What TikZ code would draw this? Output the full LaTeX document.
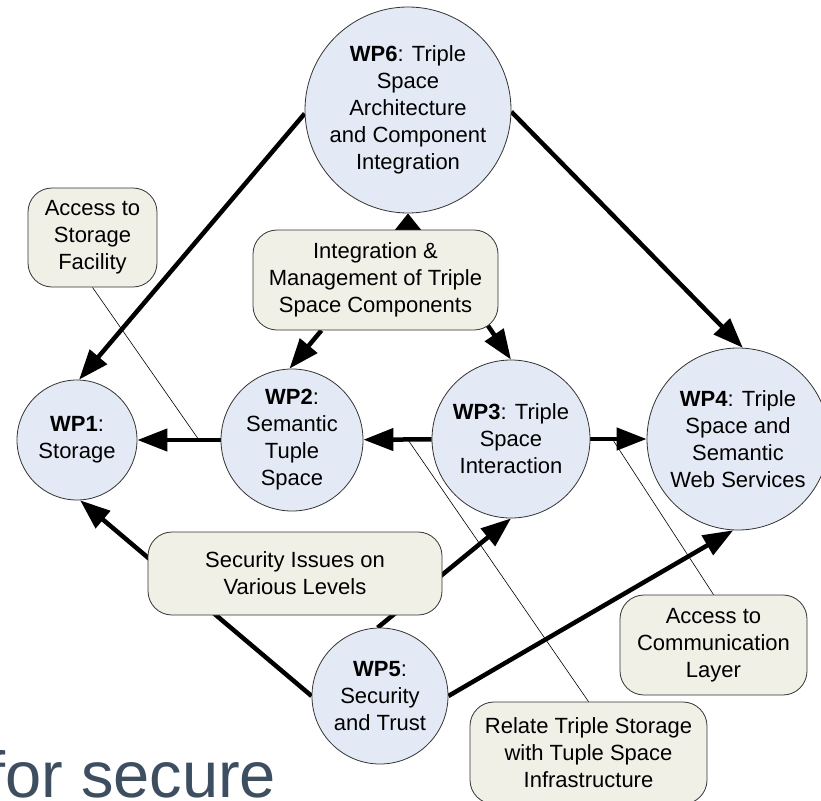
\documentclass[tikz,border=0pt]{standalone}
\usepackage{fontspec}
\setmainfont{Liberation Sans}
\usetikzlibrary{arrows.meta,backgrounds,calc}
\definecolor{wpblue}{RGB}{228,234,245}
\definecolor{taskbeige}{RGB}{240,240,231}
\definecolor{slate}{RGB}{62,78,97}
\newcommand*{\wptextstyle}{\fontsize{22}{27}\selectfont}

\tikzset{
   wp/.style = {
      circle, draw=black!80, fill=wpblue, line width=0.8pt,
      inner sep=0pt, align=center, font=\wptextstyle
   },
   task/.style = {
      rectangle, rounded corners=24pt, draw=black!80, fill=taskbeige,
      line width=0.8pt, inner sep=0pt, align=center, font=\wptextstyle
   },
   flow/.style = {line width=4.5pt, -{Triangle[length=30pt,width=22pt]}},
   shortflow/.style = {line width=4.5pt, -{Triangle[length=17pt,width=26pt]}},
   callout/.style = {line width=0.6pt}
}

\begin{document}
\begin{tikzpicture}[x=1pt, y=-1pt]
   \clip (0,0) rectangle (821,800);

   % work packages
   \node[wp, minimum size=206pt] (wp6) at (408,110)
      {\textbf{WP6}: Triple\\Space\\Architecture\\and Component\\Integration};
   \node[wp, minimum size=120pt] (wp1) at (77,440)
      {\textbf{WP1}:\\Storage};
   \node[wp, minimum size=142pt] (wp2) at (292,440)
      {\textbf{WP2}:\\Semantic\\Tuple\\Space};
   \node[wp, minimum size=158pt] (wp3) at (511,439)
      {\textbf{WP3}: Triple\\Space\\Interaction};
   \node[wp, minimum size=182pt] (wp4) at (738,439)
      {\textbf{WP4}: Triple\\Space and\\Semantic\\Web Services};
   \node[wp, minimum size=136pt] (wp5) at (380,696)
      {\textbf{WP5}:\\Security\\and Trust};

   % shared tasks
   \node[task, minimum width=129pt, minimum height=99pt] (storage) at (92.5,237.5)
      {Access to\\Storage\\Facility};
   \node[task, minimum width=245pt, minimum height=100pt] (integration) at (375.5,280)
      {Integration \&\\Management of Triple\\Space Components};
   \node[task, minimum width=294pt, minimum height=83pt] (security) at (295,573.5)
      {Security Issues on\\Various Levels};
   \node[task, minimum width=187pt, minimum height=100pt] (communication) at (713.5,645)
      {Access to\\Communication\\Layer};
   \node[task, minimum width=237pt, minimum height=102pt] (relate) at (588.5,753)
      {Relate Triple Storage\\with Tuple Space\\Infrastructure};

   \node[anchor=base west, inner sep=0pt, text=slate,
         font=\fontsize{65}{72}\selectfont] (tagline) at (-13,797) {for secure};

   \begin{scope}[on background layer]
      \draw[flow] (wp6.182) -- (wp1.88);
      \draw[flow] (wp6.-1) -- (wp4.87);
      \draw[shortflow] (wp6.south |- integration.north) -- (wp6.south);
      \draw[flow] ($(integration.south west)!0.28!(integration.south east)$) -- (wp2.92);
      \draw[flow] ([xshift=-12pt,yshift=7pt]integration.south east) -- (wp3.north);

      \draw[flow] (wp2) -- coordinate[pos=0.26] (storagehook) (wp1);
      \draw[flow] (wp3) -- coordinate[pos=0.35] (relatehook) (wp2);
      \draw[flow] (wp3) -- coordinate[pos=0.39] (commhook) (wp4);

      \draw[flow] (wp5.west) -- (wp1.-87);
      \draw[flow] (wp5.92) -- (wp3.south);
      \draw[flow] (wp5.east) -- (wp4.-93);

      % thin pointers from the tasks
      \draw[callout] (storage.south) -- (storagehook);
      \draw[callout] (relate.north) -- (relatehook);
      \draw[callout] (communication.north) -- (commhook);
   \end{scope}
\end{tikzpicture}
\end{document}
